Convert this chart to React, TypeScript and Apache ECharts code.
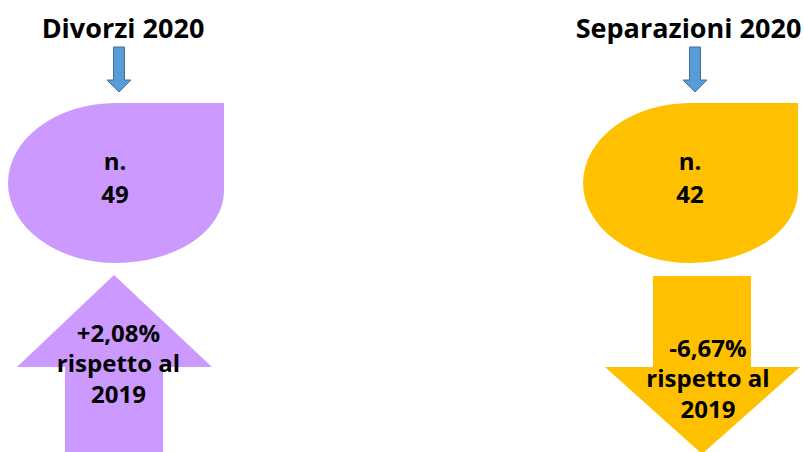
import React, { useEffect, useRef } from "react";
import * as echarts from "echarts";

const titles = ["Divorzi 2020", "Separazioni 2020"];
const counts = [49, 42];
const changes = [2.08, -6.67];
const compareYear = 2019;
const fills = ["#cc99ff", "#ffc000"];

const teardrop =
  "M -108 0 A 108 80 0 0 1 0 -80 L 108 -80 L 108 8 A 108 72 0 0 1 0 80 A 108 80 0 0 1 -108 0 Z";
echarts.graphic.registerShape("teardrop", echarts.graphic.extendPath(teardrop, {}));

const fmt = (v: number) => (v > 0 ? "+" : "") + v.toFixed(2).replace(".", ",") + "%";

export default function App() {
  const ref = useRef<HTMLDivElement>(null);
  useEffect(() => {
    document.body.style.margin = "0";
    const chart = echarts.init(ref.current!, null, { renderer: "svg" });
    const font = "'Open Sans', sans-serif";
    const txt = (x: number, y: number, s: string, size = 24, lineHeight = 30) => ({
      type: "text",
      x,
      y,
      style: {
        text: s,
        fill: "#000",
        font: `bold ${size}px ${font}`,
        lineHeight,
        align: "center",
        verticalAlign: "middle",
      },
    });
    const blueArrow = (cx: number) => ({
      type: "polygon",
      shape: {
        points: [
          [cx - 5.5, 47], [cx + 5.5, 47], [cx + 5.5, 80], [cx + 12, 80],
          [cx, 92], [cx - 12, 80], [cx - 5.5, 80],
        ],
      },
      style: { fill: "#5b9bd5", stroke: "#41719c", lineWidth: 1 },
    });
    const panels = [
      { titleX: 123, arrowX: 119, dropX: 116, textX: 115 },
      { titleX: 688.5, arrowX: 695, dropX: 690.5, textX: 690 },
    ];
    const elements: any[] = [];
    panels.forEach((p, i) => {
      elements.push(txt(p.titleX, 27, titles[i], 27));
      elements.push(blueArrow(p.arrowX));
      elements.push({
        type: "teardrop",
        x: p.dropX,
        y: 183,
        scaleX: i === 0 ? 1 : 107.5 / 108,
        scaleY: 1,
        style: { fill: fills[i] },
      });
      elements.push(txt(p.textX, 176.5, "n.\n" + String(counts[i]), 24, 33));
    });
    // up arrow (left)
    elements.push({
      type: "polygon",
      shape: {
        points: [[114, 275], [212, 367], [163, 367], [163, 460], [65, 460], [65, 367], [17, 367]],
      },
      style: { fill: fills[0] },
    });
    elements.push(txt(118.5, 362.5, fmt(changes[0]) + "\nrispetto al\n" + compareYear, 24, 30.5));
    // down arrow (right)
    elements.push({
      type: "polygon",
      shape: {
        points: [[653, 276], [751, 276], [751, 367], [800, 367], [702, 454], [605, 367], [653, 367]],
      },
      style: { fill: fills[1] },
    });
    elements.push(txt(708, 377.5, fmt(changes[1]) + "\nrispetto al\n" + compareYear, 24, 30.5));

    chart.setOption({ animation: false, graphic: { elements } });
    return () => chart.dispose();
  }, []);
  return <div ref={ref} style={{ width: 804, height: 452 }} />;
}
